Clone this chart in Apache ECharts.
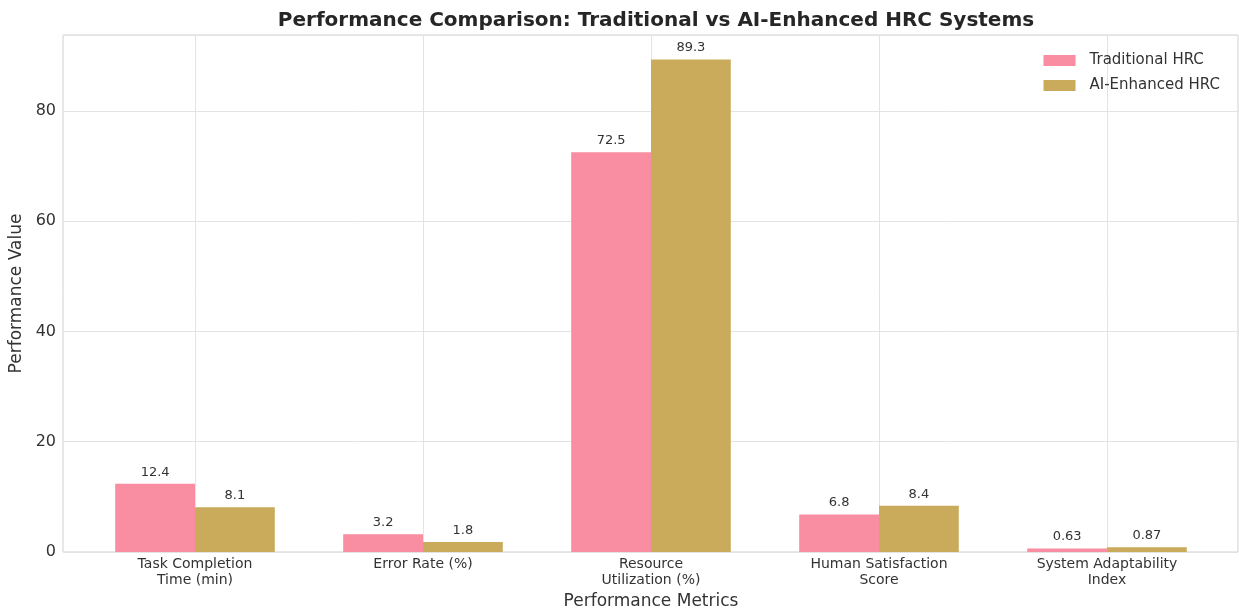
<!DOCTYPE html>
<html>
<head>
<meta charset="utf-8">
<title>Performance Comparison</title>
<script src="https://cdn.jsdelivr.net/npm/echarts@6/dist/echarts.min.js"></script>
<style>
  html, body { margin: 0; padding: 0; background: #ffffff; }
  #chart { width: 1239px; height: 610px; }
</style>
</head>
<body>
<div id="chart"></div>
<script>
// Metrics compared on the horizontal axis
const categories = [
  'Task Completion\nTime (min)',
  'Error Rate (%)',
  'Resource\nUtilization (%)',
  'Human Satisfaction\nScore',
  'System Adaptability\nIndex'
];
// Measured values per system
const traditionalHRC = [12.4, 3.2, 72.5, 6.8, 0.63];
const aiEnhancedHRC = [8.1, 1.8, 89.3, 8.4, 0.87];
const seriesNames = ['Traditional HRC', 'AI-Enhanced HRC'];

const FONT = 'DejaVu Sans';
const PINK = '#f98da1';
const GOLD = '#c9ab5b';
const GRID_COLOR = '#e3e3e3';
const FRAME_COLOR = '#d0d0d0';
const TEXT_COLOR = '#333333';

// Value axis top leaves a 5% headroom above the tallest bar
const yMax = Math.max(...traditionalHRC, ...aiEnhancedHRC) * 1.05;

const chart = echarts.init(document.getElementById('chart'), null, { renderer: 'canvas' });

const option = {
  backgroundColor: '#ffffff',
  animation: false,
  title: {
    text: 'Performance Comparison: Traditional vs AI-Enhanced HRC Systems',
    left: 651,
    textAlign: 'center',
    top: 6,
    textStyle: { fontFamily: FONT, fontSize: 20, fontWeight: 'bold', color: '#262626' }
  },
  legend: {
    data: seriesNames,
    orient: 'vertical',
    right: 14,
    top: 48,
    itemWidth: 32,
    itemHeight: 11,
    itemGap: 10,
    icon: 'rect',
    textStyle: { fontFamily: FONT, fontSize: 15, color: TEXT_COLOR, padding: [0, 0, 0, 9] }
  },
  grid: [
    // plot frame with horizontal gridlines
    { left: 63, right: 1, top: 35, bottom: 58, outerBoundsMode: 'none', containLabel: false,
      show: true, borderColor: FRAME_COLOR, borderWidth: 1, backgroundColor: 'transparent' },
    // bar area: category bands of the metrics
    { left: 81, right: 18, top: 35, bottom: 58, outerBoundsMode: 'none', containLabel: false }
  ],
  xAxis: [
    {
      gridIndex: 0, type: 'value', min: 0, max: 1,
      axisLine: { show: false }, axisTick: { show: false },
      axisLabel: { show: false }, splitLine: { show: false }
    },
    {
      gridIndex: 1, type: 'category', data: categories, boundaryGap: true,
      axisLine: { show: false }, axisTick: { show: false },
      axisLabel: { fontFamily: FONT, fontSize: 14, color: TEXT_COLOR, lineHeight: 16, margin: 4, interval: 0 },
      name: 'Performance Metrics',
      nameLocation: 'middle',
      nameGap: 39,
      nameTextStyle: { fontFamily: FONT, fontSize: 17, color: TEXT_COLOR }
    }
  ],
  yAxis: [
    {
      gridIndex: 0, type: 'value', min: 0, max: yMax, interval: 20,
      axisLine: { show: false }, axisTick: { show: false },
      axisLabel: { fontFamily: FONT, fontSize: 16, color: TEXT_COLOR, margin: 7, showMaxLabel: false },
      splitLine: { show: true, lineStyle: { color: GRID_COLOR, width: 1 } },
      name: 'Performance Value',
      nameLocation: 'middle',
      nameGap: 37,
      nameTextStyle: { fontFamily: FONT, fontSize: 17, color: TEXT_COLOR }
    },
    {
      gridIndex: 1, type: 'value', min: 0, max: yMax,
      axisLine: { show: false }, axisTick: { show: false },
      axisLabel: { show: false }, splitLine: { show: false }
    }
  ],
  series: [
    {
      // vertical gridlines at each metric
      type: 'line',
      xAxisIndex: 1, yAxisIndex: 1,
      data: [],
      z: 1,
      silent: true,
      markLine: {
        z: 1,
        silent: true,
        symbol: ['none', 'none'],
        label: { show: false },
        lineStyle: { color: GRID_COLOR, width: 1, type: 'solid' },
        data: categories.map(c => ({ xAxis: c }))
      }
    },
    {
      name: seriesNames[0],
      type: 'bar',
      xAxisIndex: 1, yAxisIndex: 1,
      data: traditionalHRC,
      barWidth: '35%',
      barGap: '0%',
      z: 10,
      itemStyle: { color: PINK },
      label: { show: true, position: 'top', distance: 5, fontFamily: FONT, fontSize: 13, color: TEXT_COLOR }
    },
    {
      name: seriesNames[1],
      type: 'bar',
      xAxisIndex: 1, yAxisIndex: 1,
      data: aiEnhancedHRC,
      barWidth: '35%',
      barGap: '0%',
      z: 10,
      itemStyle: { color: GOLD },
      label: { show: true, position: 'top', distance: 5, fontFamily: FONT, fontSize: 13, color: TEXT_COLOR }
    }
  ]
};

chart.setOption(option);
</script>
</body>
</html>
